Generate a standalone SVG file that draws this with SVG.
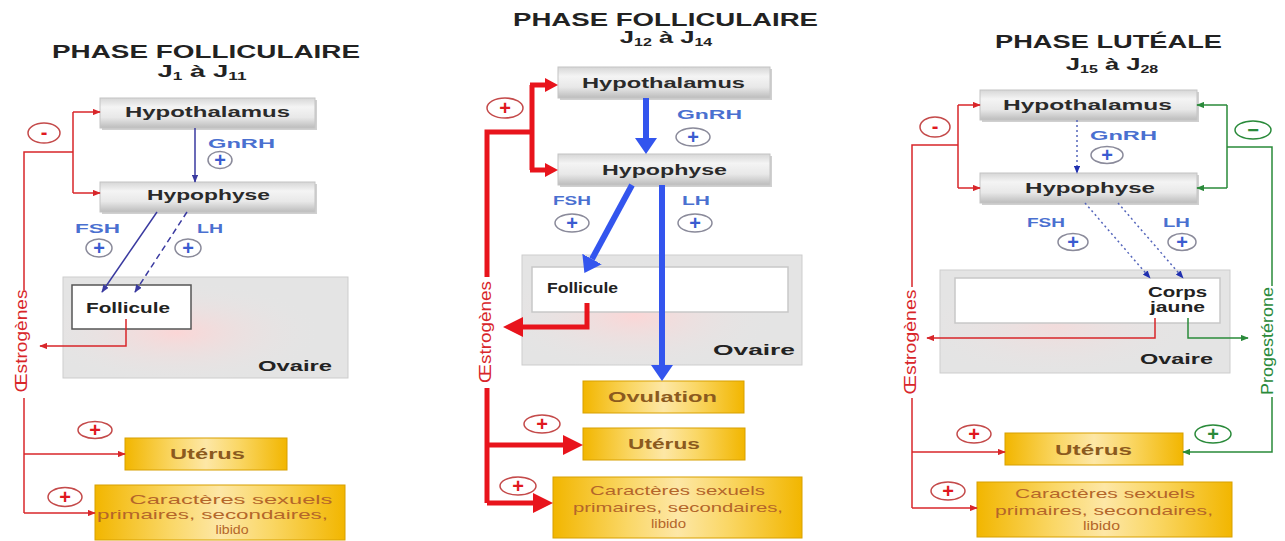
<svg xmlns="http://www.w3.org/2000/svg" width="1285" height="541" viewBox="0 0 1285 541">
<defs>
<linearGradient id="gray" x1="0" y1="0" x2="0" y2="1">
<stop offset="0" stop-color="#d6d6d6"/><stop offset="0.3" stop-color="#f4f4f4"/><stop offset="0.65" stop-color="#e8e8e8"/><stop offset="1" stop-color="#bcbcbc"/>
</linearGradient>
<linearGradient id="gold" x1="0" y1="0" x2="1" y2="0">
<stop offset="0" stop-color="#f2b600"/><stop offset="0.3" stop-color="#fad766"/><stop offset="0.5" stop-color="#fde7a6"/><stop offset="0.7" stop-color="#fad766"/><stop offset="1" stop-color="#f2b600"/>
</linearGradient>
<radialGradient id="pink" cx="0.4" cy="0.55" r="0.5">
<stop offset="0" stop-color="#fbd6d6"/><stop offset="1" stop-color="#e6e6e6" stop-opacity="0"/>
</radialGradient>
<marker id="ar" viewBox="0 0 10 8" refX="9" refY="4" markerWidth="8" markerHeight="6.4" markerUnits="userSpaceOnUse" orient="auto"><path d="M0,0 L10,4 L0,8 z" fill="#d8262a"/></marker>
<marker id="ag" viewBox="0 0 10 8" refX="9" refY="4" markerWidth="8" markerHeight="6.4" markerUnits="userSpaceOnUse" orient="auto"><path d="M0,0 L10,4 L0,8 z" fill="#2a8a3a"/></marker>
<marker id="ab" viewBox="0 0 10 8" refX="9" refY="4" markerWidth="8" markerHeight="6.4" markerUnits="userSpaceOnUse" orient="auto"><path d="M0,0 L10,4 L0,8 z" fill="#3a3aa0"/></marker>
<marker id="ad" viewBox="0 0 10 8" refX="9" refY="4" markerWidth="8" markerHeight="6.4" markerUnits="userSpaceOnUse" orient="auto"><path d="M0,0 L10,4 L0,8 z" fill="#2030b0"/></marker>
<marker id="RM" viewBox="0 0 13 14" refX="0" refY="7" markerWidth="13" markerHeight="14" markerUnits="userSpaceOnUse" orient="auto"><path d="M0,0 L13,7 L0,14 z" fill="#e8141c"/></marker>
<marker id="RB" viewBox="0 0 20 20" refX="0" refY="10" markerWidth="20" markerHeight="20" markerUnits="userSpaceOnUse" orient="auto"><path d="M0,0 L20,10 L0,20 z" fill="#e8141c"/></marker>
<marker id="BB" viewBox="0 0 16 22" refX="0" refY="11" markerWidth="16" markerHeight="22" markerUnits="userSpaceOnUse" orient="auto"><path d="M0,0 L16,11 L0,22 z" fill="#3355ee"/></marker>
</defs>
<style>
text{font-family:"Liberation Sans",Arial,sans-serif}
.ttl{font-size:18px;font-weight:bold;fill:#222}
.sub{font-size:16px;font-weight:bold;fill:#222}
.gbox{fill:url(#gray);stroke:#c4c4c4;stroke-width:1}
.gsh{fill:#d0d0d0}
.gt{font-size:15px;font-weight:bold;fill:#2a2a2a;text-anchor:middle}
.ybox{fill:url(#gold);stroke:#d8a000;stroke-width:1}
.yt{font-size:15px;font-weight:bold;fill:#8b5a1e;text-anchor:middle}
.ct{font-size:13px;fill:#b4662a;text-anchor:middle}
.ov{fill:#e4e4e4;stroke:#cdcdcd;stroke-width:1}
.ovg{fill:url(#pink)}
.inb{fill:#fff;stroke:#c8c8c8;stroke-width:1.5}
.bt{font-size:13px;font-weight:bold;fill:#4a70d0}
.bl{font-size:14px;font-weight:bold;fill:#222}
.pc{fill:none;stroke:#8a8a9a;stroke-width:1.5}
.pb{font-size:20px;font-weight:bold;fill:#3a5cd0;text-anchor:middle}
.rc{fill:none;stroke:#c44a4a;stroke-width:1.5}
.pr{font-size:20px;font-weight:bold;fill:#e01820;text-anchor:middle}
.gc{fill:none;stroke:#2a8a3a;stroke-width:1.5}
.pg{font-size:20px;font-weight:bold;fill:#2a8a3a;text-anchor:middle}
.red{fill:none;stroke:#d8262a;stroke-width:1.5}
.redT{fill:none;stroke:#e8141c;stroke-width:5}
.grn{fill:none;stroke:#2a8a3a;stroke-width:1.5}
.blu{fill:none;stroke:#3a3aa0;stroke-width:1.5}
.bluT{fill:none;stroke:#3355ee;stroke-width:6}
.dot{fill:none;stroke:#5566bb;stroke-width:1.5;stroke-dasharray:2 3}
.vr{font-size:16px;fill:#d8262a;text-anchor:middle}
.vg{font-size:16px;fill:#2a8a3a;text-anchor:middle}
</style>

<!-- ============ PANEL 1 ============ -->
<g id="title1">
<text class="ttl" x="206" y="58" text-anchor="middle" textLength="308" lengthAdjust="spacingAndGlyphs">PHASE FOLLICULAIRE</text>
<text class="sub" text-anchor="middle" transform="translate(202,77) scale(1.72,1)">J<tspan font-size="10" dy="3">1</tspan><tspan dy="-3"> à J</tspan><tspan font-size="10" dy="3">11</tspan></text>
</g>
<g id="p1-ovaire">
<rect class="ov" x="63" y="277" width="285" height="101"/>
<rect class="ovg" x="63" y="277" width="285" height="101"/>
<text class="bl" x="258" y="371" font-size="15" textLength="74" lengthAdjust="spacingAndGlyphs">Ovaire</text>
</g>
<g id="p1-follicule">
<rect x="72" y="285" width="119" height="44" fill="#fff" stroke="#555" stroke-width="1.5"/>
<text class="bl" x="86" y="313" textLength="84" lengthAdjust="spacingAndGlyphs">Follicule</text>
</g>
<g id="p1-hypothalamus">
<rect class="gsh" x="102" y="100" width="215" height="30"/>
<rect class="gbox" x="100" y="98" width="215" height="30"/>
<text class="gt" x="207.5" y="117" textLength="165" lengthAdjust="spacingAndGlyphs">Hypothalamus</text>
</g>
<g id="p1-hypophyse">
<rect class="gsh" x="102" y="184" width="215" height="30"/>
<rect class="gbox" x="100" y="182" width="215" height="30"/>
<text class="gt" x="208.5" y="200" textLength="123" lengthAdjust="spacingAndGlyphs">Hypophyse</text>
</g>
<g id="p1-uterus">
<rect class="ybox" x="125" y="438" width="162" height="32"/>
<text class="yt" x="207.5" y="459" textLength="75" lengthAdjust="spacingAndGlyphs">Utérus</text>
</g>
<g id="p1-caracteres">
<rect class="ybox" x="95" y="485" width="250" height="55"/>
<text class="ct" x="231" y="504" textLength="203" lengthAdjust="spacingAndGlyphs">Caractères sexuels</text>
<text class="ct" x="212.5" y="519" textLength="231" lengthAdjust="spacingAndGlyphs">primaires, secondaires,</text>
<text class="ct" x="232" y="534" textLength="33" lengthAdjust="spacingAndGlyphs">libido</text>
</g>
<g id="p1-connectors">
<path class="red" d="M24,290 V152 H73 M73,112 V193"/>
<path class="red" d="M73,112 H100" marker-end="url(#ar)"/>
<path class="red" d="M73,193 H100" marker-end="url(#ar)"/>
<path class="red" d="M24,398 V513"/>
<path class="red" d="M24,454 H125" marker-end="url(#ar)"/>
<path class="red" d="M24,513 H95" marker-end="url(#ar)"/>
<path class="red" d="M126,319 V346 H40" marker-end="url(#ar)"/>
<path class="blu" d="M195,128 V182" marker-end="url(#ab)"/>
<path class="blu" d="M157,212 L102,292" marker-end="url(#ab)"/>
<path class="blu" d="M187,212 L135,292" stroke-width="2" stroke-dasharray="6 4" marker-end="url(#ab)"/>
</g>
<g id="p1-labels">
<text class="vr" transform="translate(27,341) rotate(-90)" textLength="103" lengthAdjust="spacingAndGlyphs">Œstrogènes</text>
<text class="bt" x="208" y="148" textLength="67" lengthAdjust="spacingAndGlyphs">GnRH</text>
<text class="bt" x="75" y="233" textLength="45" lengthAdjust="spacingAndGlyphs">FSH</text>
<text class="bt" x="197" y="233" textLength="26" lengthAdjust="spacingAndGlyphs">LH</text>
<ellipse class="pc" cx="220" cy="160" rx="12" ry="8.5"/><text class="pb" x="220" y="167">+</text>
<ellipse class="pc" cx="99" cy="248" rx="13" ry="9"/><text class="pb" x="99" y="255">+</text>
<ellipse class="pc" cx="188" cy="248" rx="13" ry="9"/><text class="pb" x="188" y="255">+</text>
<ellipse class="rc" cx="44" cy="133" rx="16" ry="10"/><text class="pr" x="44" y="139">-</text>
<ellipse class="rc" cx="95" cy="430" rx="17" ry="8.5"/><text class="pr" x="95" y="437">+</text>
<ellipse class="rc" cx="65" cy="497" rx="17" ry="9.5"/><text class="pr" x="65" y="504">+</text>
</g>

<!-- ============ PANEL 2 ============ -->
<g id="title2">
<text class="ttl" x="665.5" y="26" text-anchor="middle" textLength="305" lengthAdjust="spacingAndGlyphs">PHASE FOLLICULAIRE</text>
<text class="sub" text-anchor="middle" transform="translate(666,43) scale(1.6,1)">J<tspan font-size="10" dy="3">12</tspan><tspan dy="-3"> à J</tspan><tspan font-size="10" dy="3">14</tspan></text>
</g>
<g id="p2-ovaire">
<rect class="ov" x="522" y="255" width="280" height="110"/>
<rect class="ovg" x="522" y="255" width="280" height="110"/>
<text class="bl" x="713" y="355" font-size="16" textLength="82" lengthAdjust="spacingAndGlyphs">Ovaire</text>
</g>
<g id="p2-follicule">
<rect class="inb" x="532" y="267" width="256" height="45"/>
<text class="bl" x="547" y="293" font-size="13" textLength="71" lengthAdjust="spacingAndGlyphs">Follicule</text>
</g>
<g id="p2-hypothalamus">
<rect class="gsh" x="560" y="69" width="212" height="31"/>
<rect class="gbox" x="558" y="67" width="212" height="31"/>
<text class="gt" x="663.5" y="88" textLength="163" lengthAdjust="spacingAndGlyphs">Hypothalamus</text>
</g>
<g id="p2-hypophyse">
<rect class="gsh" x="560" y="156" width="212" height="31"/>
<rect class="gbox" x="558" y="154" width="212" height="31"/>
<text class="gt" x="664.5" y="175" textLength="125" lengthAdjust="spacingAndGlyphs">Hypophyse</text>
</g>
<g id="p2-ovulation">
<rect class="ybox" x="583" y="381" width="161" height="32"/>
<text class="yt" x="662.5" y="402" textLength="109" lengthAdjust="spacingAndGlyphs">Ovulation</text>
</g>
<g id="p2-uterus">
<rect class="ybox" x="583" y="428" width="162" height="32"/>
<text class="yt" x="664" y="449" textLength="72" lengthAdjust="spacingAndGlyphs">Utérus</text>
</g>
<g id="p2-caracteres">
<rect class="ybox" x="553" y="477" width="249" height="61"/>
<text class="ct" x="677.5" y="495" textLength="175" lengthAdjust="spacingAndGlyphs">Caractères sexuels</text>
<text class="ct" x="678" y="512" textLength="210" lengthAdjust="spacingAndGlyphs">primaires, secondaires,</text>
<text class="ct" x="668.5" y="528" textLength="35" lengthAdjust="spacingAndGlyphs">libido</text>
</g>
<g id="p2-connectors">
<path class="redT" d="M487,277 V132 H532 M532,85 V170"/>
<path class="redT" d="M530,85 H545" marker-end="url(#RM)"/>
<path class="redT" d="M530,170 H545" marker-end="url(#RM)"/>
<path class="redT" d="M487,388 V503"/>
<path class="redT" d="M487,445 H563" marker-end="url(#RB)"/>
<path class="redT" d="M487,503 H533" marker-end="url(#RB)"/>
<path class="redT" d="M587,303 V327 H523" marker-end="url(#RB)"/>
<path class="bluT" d="M646,98 V138" marker-end="url(#BB)"/>
<path class="bluT" d="M632,185 L592,259" marker-end="url(#BB)"/>
<path class="bluT" d="M662,185 V365" marker-end="url(#BB)"/>
</g>
<g id="p2-labels">
<text class="vr" font-size="18" transform="translate(491,332) rotate(-90)" textLength="102" lengthAdjust="spacingAndGlyphs" fill="#e8141c">Œstrogènes</text>
<text class="bt" x="677" y="119" textLength="65" lengthAdjust="spacingAndGlyphs">GnRH</text>
<text class="bt" x="553" y="205" textLength="38" lengthAdjust="spacingAndGlyphs">FSH</text>
<text class="bt" x="682" y="205" textLength="28" lengthAdjust="spacingAndGlyphs">LH</text>
<ellipse class="pc" cx="693" cy="137" rx="17" ry="9"/><text class="pb" x="693" y="144">+</text>
<ellipse class="pc" cx="572" cy="223" rx="17" ry="9"/><text class="pb" x="572" y="230">+</text>
<ellipse class="pc" cx="695" cy="223" rx="17" ry="9"/><text class="pb" x="695" y="230">+</text>
<ellipse class="rc" cx="505" cy="108" rx="18" ry="10" stroke="#999"/><text class="pr" x="505" y="115">+</text>
<ellipse class="rc" cx="542" cy="424" rx="18" ry="9" stroke="#999"/><text class="pr" x="542" y="431">+</text>
<ellipse class="rc" cx="518" cy="486" rx="18" ry="9" stroke="#999"/><text class="pr" x="518" y="493">+</text>
</g>

<!-- ============ PANEL 3 ============ -->
<g id="title3">
<text class="ttl" x="1108.5" y="48" text-anchor="middle" textLength="227" lengthAdjust="spacingAndGlyphs">PHASE LUTÉALE</text>
<text class="sub" text-anchor="middle" transform="translate(1112,70) scale(1.6,1)">J<tspan font-size="10" dy="3">15</tspan><tspan dy="-3"> à J</tspan><tspan font-size="10" dy="3">28</tspan></text>
</g>
<g id="p3-ovaire">
<rect class="ov" x="940" y="270" width="290" height="103"/>
<rect class="ovg" x="940" y="270" width="290" height="103" opacity="0.6"/>
<text class="bl" x="1140" y="364" font-size="15" textLength="73" lengthAdjust="spacingAndGlyphs">Ovaire</text>
</g>
<g id="p3-corps-jaune">
<rect class="inb" x="955" y="278" width="265" height="45"/>
<text class="bl" x="1177.5" y="297" text-anchor="middle" textLength="59" lengthAdjust="spacingAndGlyphs">Corps</text>
<text class="bl" x="1177.5" y="312" text-anchor="middle" textLength="55" lengthAdjust="spacingAndGlyphs">jaune</text>
</g>
<g id="p3-hypothalamus">
<rect class="gsh" x="982" y="92" width="217" height="30"/>
<rect class="gbox" x="980" y="90" width="217" height="30"/>
<text class="gt" x="1087.5" y="110" textLength="169" lengthAdjust="spacingAndGlyphs">Hypothalamus</text>
</g>
<g id="p3-hypophyse">
<rect class="gsh" x="982" y="175" width="217" height="30"/>
<rect class="gbox" x="980" y="173" width="217" height="30"/>
<text class="gt" x="1090" y="193" textLength="130" lengthAdjust="spacingAndGlyphs">Hypophyse</text>
</g>
<g id="p3-uterus">
<rect class="ybox" x="1005" y="433" width="178" height="32"/>
<text class="yt" x="1093.5" y="455" textLength="77" lengthAdjust="spacingAndGlyphs">Utérus</text>
</g>
<g id="p3-caracteres">
<rect class="ybox" x="977" y="482" width="255" height="55"/>
<text class="ct" x="1105" y="498" textLength="180" lengthAdjust="spacingAndGlyphs">Caractères sexuels</text>
<text class="ct" x="1104" y="515" textLength="218" lengthAdjust="spacingAndGlyphs">primaires, secondaires,</text>
<text class="ct" x="1101.5" y="530" textLength="37" lengthAdjust="spacingAndGlyphs">libido</text>
</g>
<g id="p3-connectors">
<path class="red" d="M912,287 V145 H958 M958,105 V188"/>
<path class="red" d="M958,105 H980" marker-end="url(#ar)"/>
<path class="red" d="M958,188 H980" marker-end="url(#ar)"/>
<path class="red" d="M912,398 V508"/>
<path class="red" d="M912,452 H1005" marker-end="url(#ar)"/>
<path class="red" d="M912,508 H977" marker-end="url(#ar)"/>
<path class="red" d="M1155,318 V338 H927" marker-end="url(#ar)"/>
<path class="grn" d="M1272,286 V147 H1227 M1227,105 V188"/>
<path class="grn" d="M1227,105 H1197" marker-end="url(#ag)"/>
<path class="grn" d="M1227,188 H1197" marker-end="url(#ag)"/>
<path class="grn" d="M1272,397 V452 H1183" marker-end="url(#ag)"/>
<path class="grn" d="M1188,318 V338 H1248" marker-end="url(#ag)"/>
<path class="dot" d="M1077,120 V173" marker-end="url(#ad)"/>
<path class="dot" d="M1085,203 L1150,278" marker-end="url(#ad)"/>
<path class="dot" d="M1118,203 L1183,278" marker-end="url(#ad)"/>
</g>
<g id="p3-labels">
<text class="vr" transform="translate(916,342) rotate(-90)" textLength="105" lengthAdjust="spacingAndGlyphs">Œstrogènes</text>
<text class="vg" transform="translate(1273,341) rotate(-90)" textLength="108" lengthAdjust="spacingAndGlyphs">Progestérone</text>
<text class="bt" x="1090" y="140" textLength="67" lengthAdjust="spacingAndGlyphs">GnRH</text>
<text class="bt" x="1027" y="227" textLength="38" lengthAdjust="spacingAndGlyphs">FSH</text>
<text class="bt" x="1163" y="227" textLength="27" lengthAdjust="spacingAndGlyphs">LH</text>
<ellipse class="pc" cx="1107" cy="155" rx="16" ry="8.5"/><text class="pb" x="1107" y="162">+</text>
<ellipse class="pc" cx="1073" cy="242" rx="15" ry="8.5"/><text class="pb" x="1073" y="249">+</text>
<ellipse class="pc" cx="1182" cy="242" rx="14" ry="8.5"/><text class="pb" x="1182" y="249">+</text>
<ellipse class="rc" cx="935" cy="127" rx="15" ry="10"/><text class="pr" x="935" y="133">-</text>
<ellipse class="gc" cx="1253" cy="130" rx="18" ry="9"/><text class="pg" x="1253" y="137">−</text>
<ellipse class="rc" cx="974" cy="434" rx="17" ry="9"/><text class="pr" x="974" y="441">+</text>
<ellipse class="gc" cx="1213" cy="434" rx="18" ry="9"/><text class="pg" x="1213" y="441">+</text>
<ellipse class="rc" cx="948" cy="491" rx="17" ry="9"/><text class="pr" x="948" y="498">+</text>
</g>
</svg>
